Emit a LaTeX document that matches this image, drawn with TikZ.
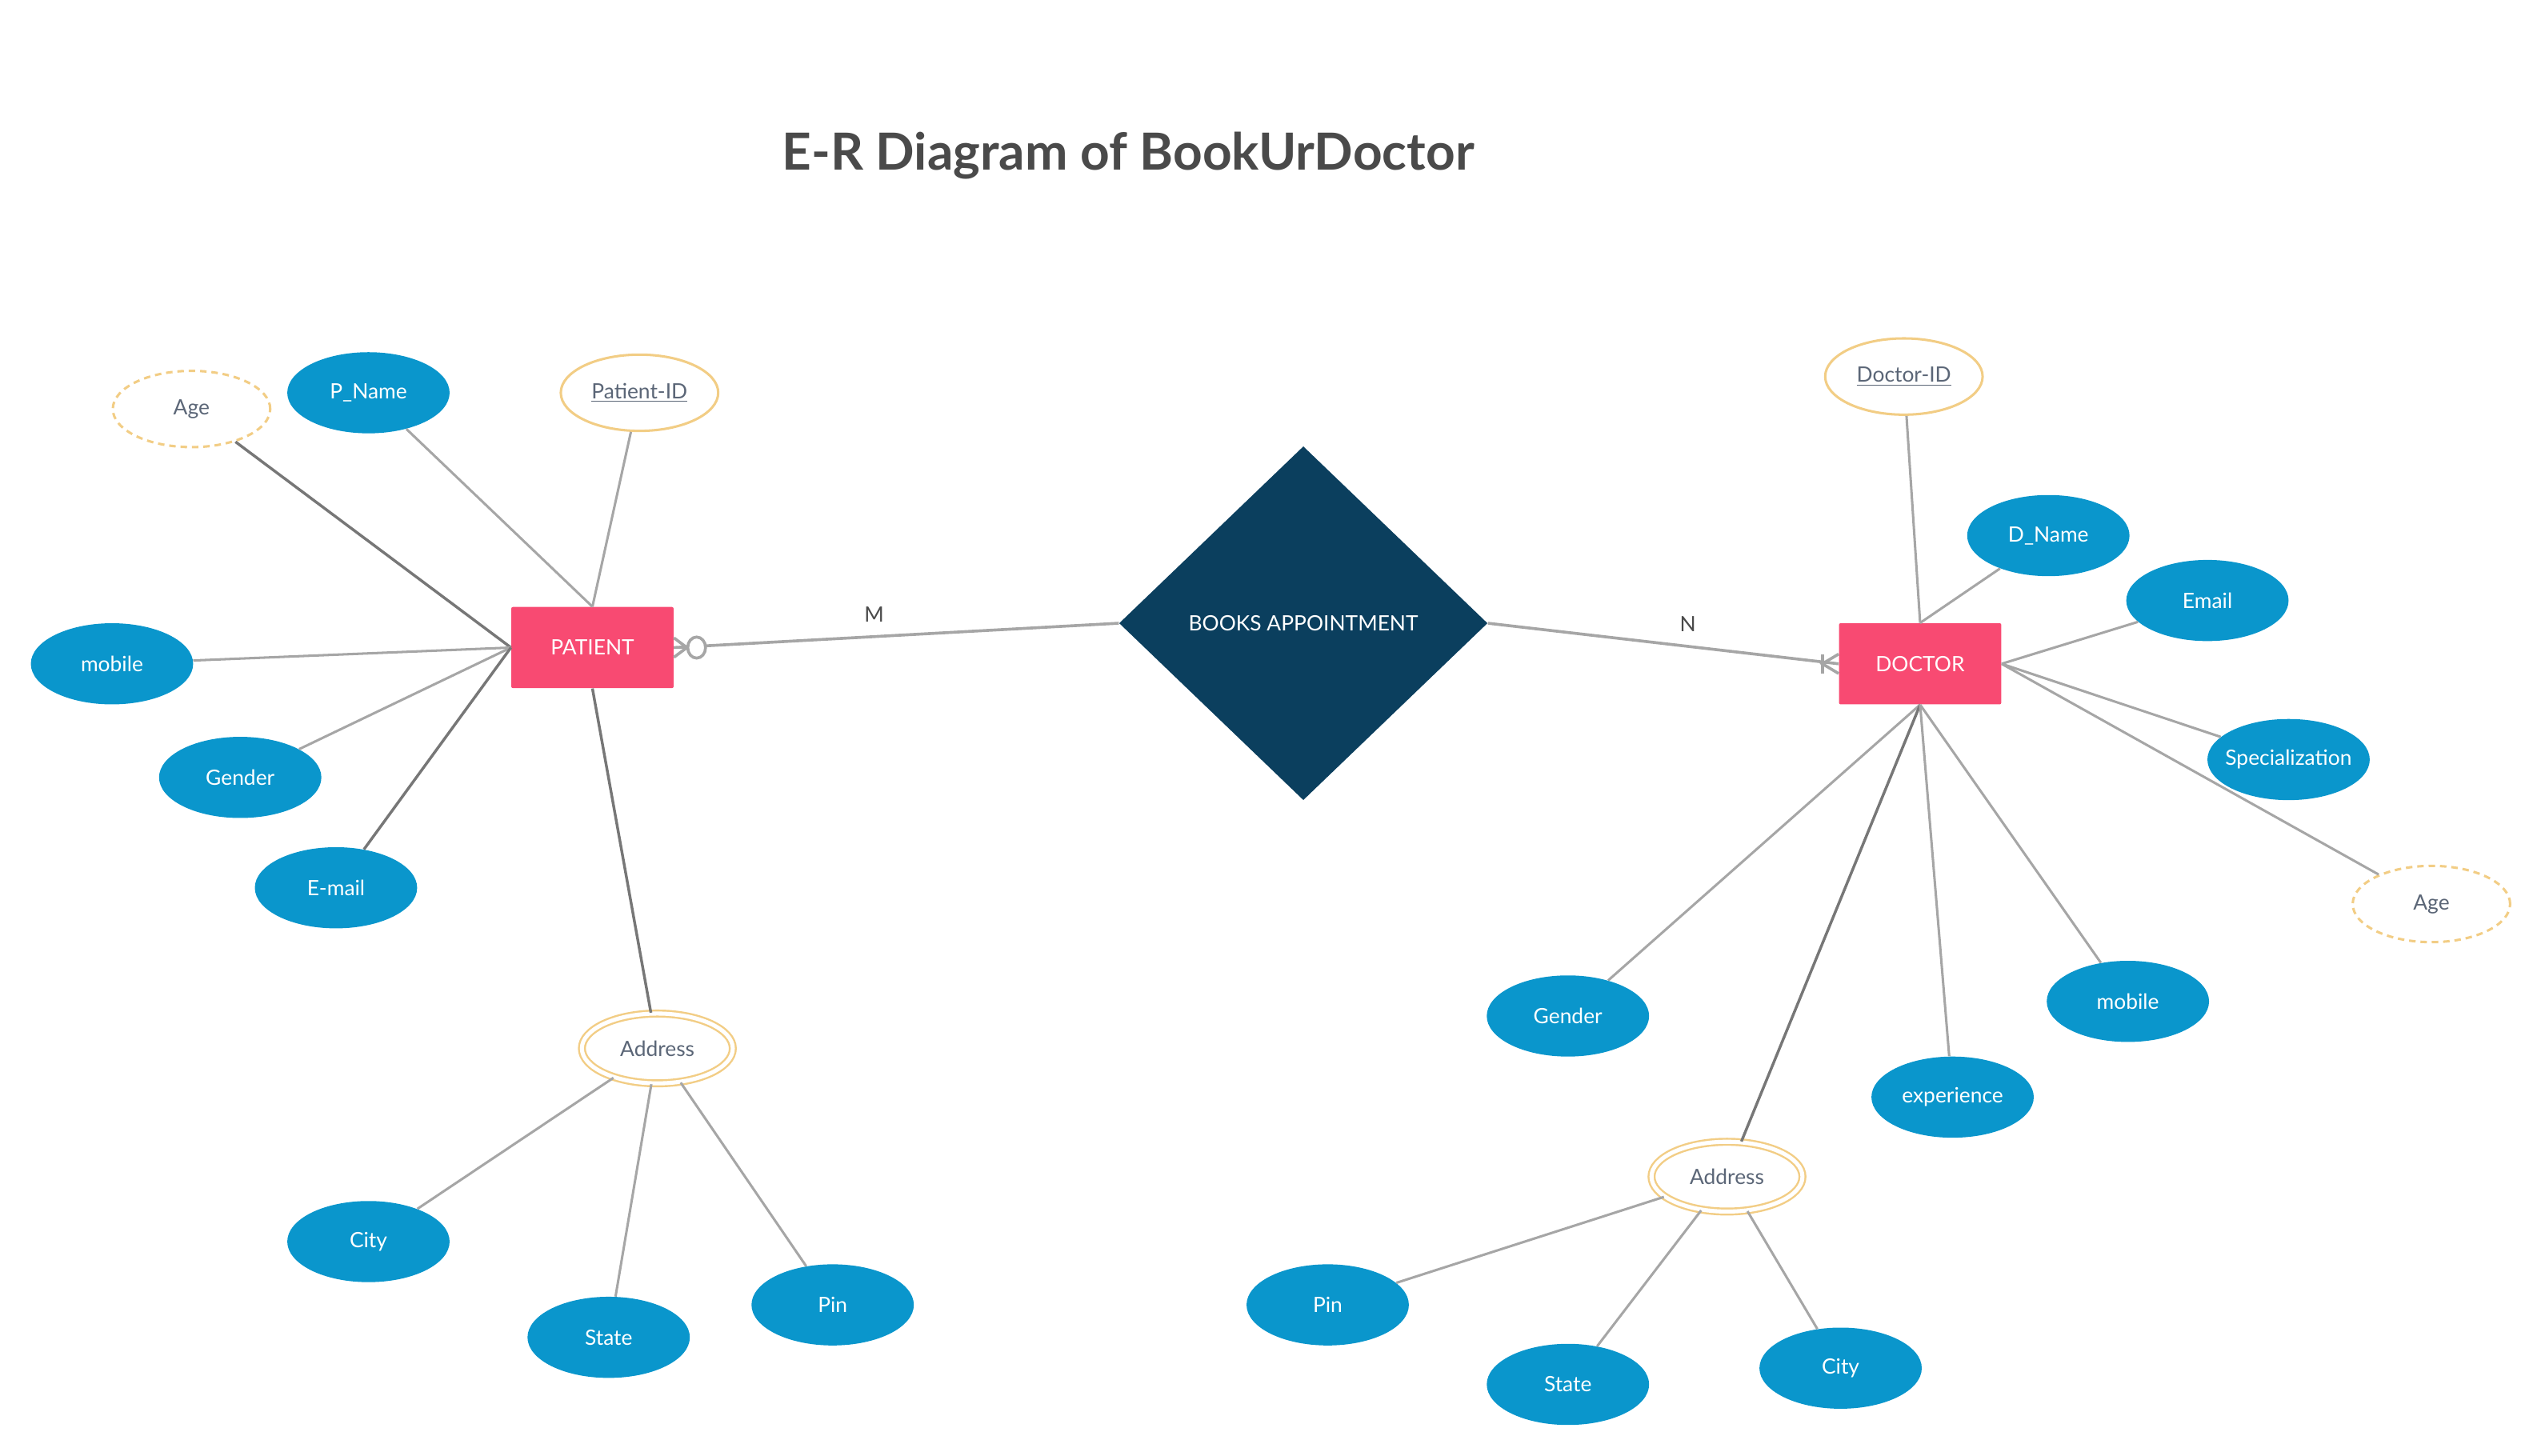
\documentclass[tikz,border=0pt]{standalone}
\usepackage{fontspec}
\setmainfont{Lato}
\usetikzlibrary{shapes.geometric,calc}

\definecolor{entred}{HTML}{F84A72}
\definecolor{attrblue}{HTML}{0A96CC}
\definecolor{relnavy}{HTML}{0B3F5E}
\definecolor{keyorange}{HTML}{F2CD85}
\definecolor{lbltext}{HTML}{5B6677}
\definecolor{lightedge}{HTML}{A6A6A6}
\definecolor{darkedge}{HTML}{777777}
\definecolor{titlegray}{HTML}{4A4A4A}

\tikzset{
  entity/.style={rectangle, rounded corners=1, fill=entred, text=white, minimum width=100, minimum height=50, inner sep=0, font=\fontsize{13}{15}\selectfont},
  relation/.style={diamond, aspect=1.04, fill=relnavy, text=white, minimum width=227, minimum height=218, inner sep=0, font=\fontsize{13}{15}\selectfont},
  attr/.style={ellipse, fill=attrblue, text=white, minimum width=100, minimum height=50, inner sep=0, font=\fontsize{13}{15}\selectfont},
  keyattr/.style={ellipse, draw=keyorange, line width=1.5, fill=white, text=lbltext, minimum width=97, minimum height=47, inner sep=0, font=\fontsize{13}{15}\selectfont},
  derived/.style={keyattr, dash pattern=on 4 off 3},
  multi/.style={ellipse, draw=keyorange, double, double distance=2.5, line width=1.2, fill=white, text=lbltext, minimum width=93, minimum height=43, inner sep=0, font=\fontsize{13}{15}\selectfont},
  lt/.style={draw=lightedge, line width=1.5},
  dk/.style={draw=darkedge, line width=1.7},
  card/.style={draw=lightedge, line width=1.8},
  cardlbl/.style={text=titlegray, font=\fontsize{13}{15}\selectfont}
}

\begin{document}
\begin{tikzpicture}[x=1pt, y=-1pt]

\useasboundingbox (0,0) rectangle (1568,897);

\node[text=titlegray, font=\bfseries\fontsize{31.5}{38}\selectfont] (title) at (695,96) {E-R Diagram of BookUrDoctor};

\node[entity] (patient) at (365,399) {PATIENT};
\node[entity] (doctor) at (1183,409) {DOCTOR};
\node[relation] (books) at (803,384) {BOOKS APPOINTMENT};

\node[derived] (page) at (118,252) {Age};
\node[attr] (pname) at (227,242) {P\_Name};
\node[keyattr] (pid) at (394,242) {\underline{Patient-ID}};
\node[attr] (pmobile) at (69,409) {mobile};
\node[attr] (pgender) at (148,479) {Gender};
\node[attr] (pemail) at (207,547) {E-mail};
\node[multi] (paddr) at (405,646) {Address};
\node[attr] (pcity) at (227,765) {City};
\node[attr] (pstate) at (375,824) {State};
\node[attr] (ppin) at (513,804) {Pin};

\node[keyattr] (did) at (1173,232) {\underline{Doctor-ID}};
\node[attr] (dname) at (1262,330) {D\_Name};
\node[attr] (demail) at (1360,370) {Email};
\node[attr] (dspec) at (1410,468) {\makebox[62pt]{Specialization}};
\node[derived] (dage) at (1498,557) {Age};
\node[attr] (dmobile) at (1311,617) {mobile};
\node[attr] (dexp) at (1203,676) {experience};
\node[attr] (dgender) at (966,626) {Gender};
\node[multi] (daddr) at (1064,725) {Address};
\node[attr] (dpin) at (818,804) {Pin};
\node[attr] (dstate) at (966,853) {State};
\node[attr] (dcity) at (1134,843) {City};

\draw[dk] (page) -- (patient.west);
\draw[lt] (pname) -- (patient.north);
\draw[lt] (pid) -- (patient.north);
\draw[lt] (pmobile) -- (patient.west);
\draw[lt] (pgender) -- (patient.west);
\draw[dk] (pemail) -- (patient.west);
\draw[dk] (patient.south) -- (paddr);
\draw[lt] (paddr) -- (pcity);
\draw[lt] (paddr) -- (pstate);
\draw[lt] (paddr) -- (ppin);

\draw[lt] (did) -- (doctor.north);
\draw[lt] (dname) -- (doctor.north);
\draw[lt] (demail) -- (doctor.east);
\draw[lt] (dspec) -- (doctor.east);
\draw[lt] (dage) -- (doctor.east);
\draw[lt] (doctor.south) -- (dgender);
\draw[dk] (doctor.south) -- (daddr);
\draw[lt] (doctor.south) -- (dexp);
\draw[lt] (doctor.south) -- (dmobile);
\draw[lt] (daddr) -- (dpin);
\draw[lt] (daddr) -- (dstate);
\draw[lt] (daddr) -- (dcity);

\draw[card] (patient.east) -- node[cardlbl, pos=0.45, above=5] {M} (books.west);
\draw[card] ([yshift=6]patient.east) -- ($(patient.east)+(8,0)$) -- ([yshift=-6]patient.east);
\draw[card] (patient.east) -- ($(patient.east)+(8,0)$);
\draw[card, fill=white] ($(patient.east)+(14,0)$) ellipse[x radius=5.5, y radius=6.5];

\draw[card] (books.east) -- node[cardlbl, pos=0.57, above=5] {N} (doctor.west);
\draw[card] ([yshift=6]doctor.west) -- ($(doctor.west)+(-10,0)$) -- ([yshift=-6]doctor.west);
\draw[card] ($(doctor.west)+(-10,6)$) -- ($(doctor.west)+(-10,-6)$);

\end{tikzpicture}
\end{document}
